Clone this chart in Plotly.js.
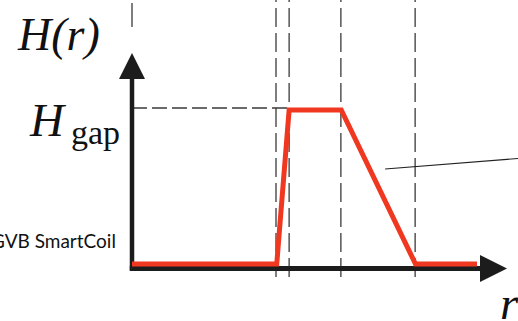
<!DOCTYPE html>
<html>
<head>
<meta charset="utf-8">
<script src="https://cdn.plot.ly/plotly-3.0.1.min.js"></script>
<style>html,body{margin:0;padding:0;background:#fff;}#chart{width:518px;height:321px;}</style>
</head>
<body>
<div id="chart"></div>
<script>
// ---- data (r in arbitrary units, H normalised to H_gap = 1) ----
var rProfile = [0, 3.86, 4.19, 5.58, 7.56, 9.2];
var hProfile = [0, 0, 1, 1, 0, 0];
var rMarks = [3.84, 4.19, 5.57, 7.55];       // dashed guide lines
var hGap = 1;
var yAxisLabel = "H(r)";
var gapLabelMain = "H";
var gapLabelSub = "gap";
var xAxisLabel = "r";
var sideNote = "GVB SmartCoil";

// ---- styles ----
var RED = "rgb(240,55,32)";
var AXIS = "#1c1c1c";
var DASH = "#3a3a3a";
var SERIF = "Liberation Serif, Times New Roman, serif";

var xRange = [-3.52, 10.2933];
var yRange = [-0.3701, 1.7143];
var axisY = -0.029;      // x-axis line position (H units)
var xArrowTip = 10.0;
var yArrowTip = 1.37;
var yTop = 1.75, yDashBottom = -0.084;

var shapes = [];
// dashed vertical guides
rMarks.forEach(function (r) {
  shapes.push({type: "line", xref: "x", yref: "y", x0: r, x1: r, y0: yDashBottom, y1: yTop,
    line: {color: DASH, width: 1.3, dash: "19px,6px"}, layer: "below"});
});
// short dash above y arrow
shapes.push({type: "line", xref: "x", yref: "y", x0: 0, x1: 0, y0: 1.539, y1: 1.695,
  line: {color: DASH, width: 1.3}, layer: "below"});
// dashed horizontal at H_gap
shapes.push({type: "line", xref: "x", yref: "y", x0: 0, x1: rProfile[2], y0: hGap + 0.013, y1: hGap + 0.013,
  line: {color: DASH, width: 1.3, dash: "15px,5px"}, layer: "below"});
// axes
shapes.push({type: "line", xref: "x", yref: "y", x0: -0.06, x1: 9.4, y0: axisY, y1: axisY,
  line: {color: AXIS, width: 5}, layer: "below"});
shapes.push({type: "line", xref: "x", yref: "y", x0: 0, x1: 0, y0: axisY - 0.012, y1: 1.21,
  line: {color: AXIS, width: 4.5}, layer: "below"});
// leader line
shapes.push({type: "line", xref: "x", yref: "y", x0: 6.75, x1: 10.3, y0: 0.617, y1: 0.685,
  line: {color: "#222", width: 1.1}, layer: "below"});

var traces = [
  {x: rProfile, y: hProfile, type: "scatter", mode: "lines",
   line: {color: RED, width: 5}, hoverinfo: "skip"},
  {x: [xArrowTip], y: [axisY], type: "scatter", mode: "markers",
   marker: {symbol: "arrow-right", size: 27, color: AXIS, line: {width: 0}}, hoverinfo: "skip"},
  {x: [0], y: [yArrowTip], type: "scatter", mode: "markers",
   marker: {symbol: "arrow-up", size: 26, color: AXIS, line: {width: 0}}, hoverinfo: "skip"}
];

function px(x) { return x / 518; }
function py(y) { return 1 - y / 321; }

var annotations = [
  {xref: "paper", yref: "paper", x: px(15), y: py(34), xanchor: "left", yanchor: "middle",
   text: "<i>" + yAxisLabel + "</i>", showarrow: false, font: {family: SERIF, size: 46, color: "#111"}},
  {xref: "paper", yref: "paper", x: px(27), y: py(120), xanchor: "left", yanchor: "middle",
   text: "<i>" + gapLabelMain + "</i>", showarrow: false, font: {family: SERIF, size: 47, color: "#111"}},
  {xref: "paper", yref: "paper", x: px(69), y: py(132), xanchor: "left", yanchor: "middle",
   text: gapLabelSub, showarrow: false, font: {family: SERIF, size: 34, color: "#111"}},
  {xref: "paper", yref: "paper", x: px(498), y: py(303), xanchor: "left", yanchor: "middle",
   text: "<i>" + xAxisLabel + "</i>", showarrow: false, font: {family: SERIF, size: 47, color: "#111"}},
  {xref: "paper", yref: "paper", x: px(118), y: py(240), xanchor: "right", yanchor: "middle",
   text: sideNote, showarrow: false, font: {family: "Lato, Open Sans, sans-serif", size: 19, color: "#111"}}
];

var layout = {
  width: 518, height: 321, autosize: false,
  margin: {l: 0, r: 0, t: 0, b: 0, pad: 0},
  paper_bgcolor: "#ffffff", plot_bgcolor: "#ffffff",
  showlegend: false,
  xaxis: {range: xRange, visible: false, fixedrange: true},
  yaxis: {range: yRange, visible: false, fixedrange: true},
  shapes: shapes,
  annotations: annotations
};

Plotly.newPlot("chart", traces, layout, {displayModeBar: false, staticPlot: true});
</script>
</body>
</html>
